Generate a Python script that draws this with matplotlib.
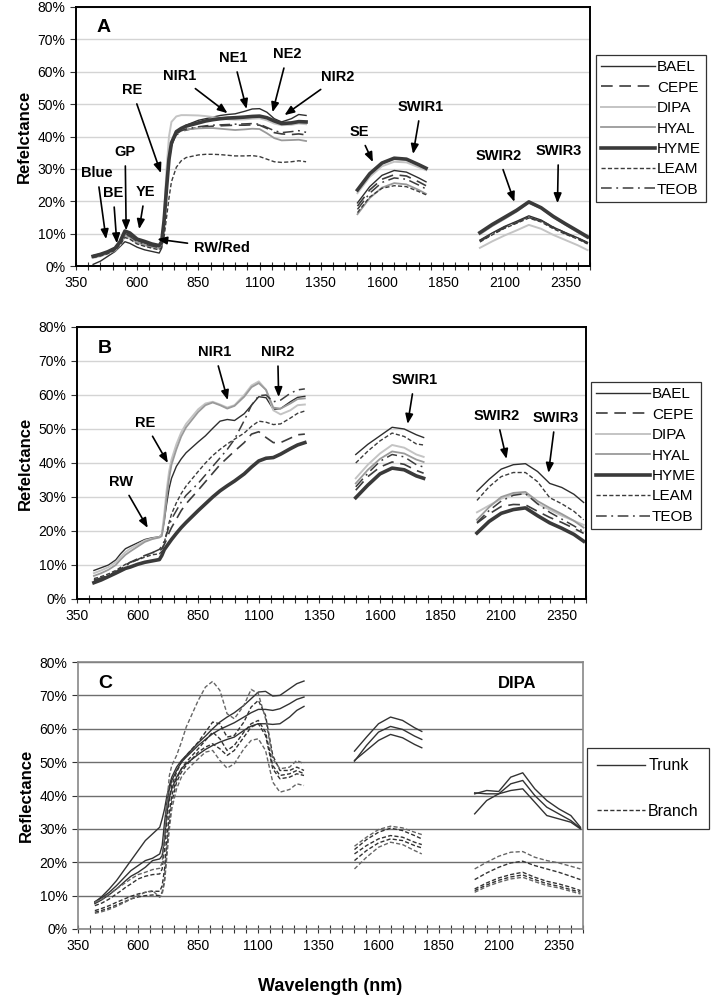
import numpy as np
import matplotlib
matplotlib.use("Agg")
import matplotlib.pyplot as plt
from matplotlib.ticker import MultipleLocator, FixedLocator, FuncFormatter

plt.rcParams['font.family'] = ['Liberation Sans', 'DejaVu Sans']

# wavelength grid (nm): VNIR part, SWIR1 part, SWIR2 part
WAVELENGTH = [420, 450, 480, 510, 530, 550, 570, 600, 630, 660, 690, 700, 710, 720, 730, 740,
              760, 780, 800, 850, 880, 910, 940, 970, 1000, 1040, 1070, 1100, 1130, 1160, 1190,
              1230, 1260, 1290,
              1500, 1550, 1600, 1650, 1700, 1750, 1780,
              2000, 2050, 2100, 2150, 2200, 2250, 2300, 2350, 2400, 2440]
SEGMENTS = [slice(0, 34), slice(34, 41), slice(41, 51)]
X_TICKS = [350, 600, 850, 1100, 1350, 1600, 1850, 2100, 2350]

SPECIES = ['BAEL', 'CEPE', 'DIPA', 'HYAL', 'HYME', 'LEAM', 'TEOB']

# panel A (leaves), reflectance in %
A_BAEL = [0.5, 1.5, 3.0, 4.5, 6.0, 7.5, 7.0, 5.8, 5.0, 4.5, 4.0, 5.5, 12, 23, 32, 37,
          41, 42.5, 43.5, 45, 45.5, 46, 46.5, 46.8, 47, 47.8, 48.5, 48.6, 47.5, 45.5, 44.5,
          45.5, 46.8, 46.5,
          19.5, 24.5, 28.0, 29.5, 29.0, 27.2, 26.0,
          8.0, 10.2, 12.2, 13.8, 15.5, 14.2, 12.0, 10.3, 8.7, 7.3]
A_CEPE = [3.2, 3.7, 4.5, 5.6, 7.5, 10.0, 9.4, 7.8, 7.0, 6.4, 5.9, 7, 13, 24, 33, 38,
          40.5, 41.5, 42.0, 42.8, 43.0, 43.2, 43.3, 43.4, 43.5, 43.5, 43.6, 43.5, 42.5, 41.2, 40.8,
          40.6, 40.8, 40.5,
          18.5, 23.5, 26.8, 28.2, 27.8, 26.0, 24.8,
          7.6, 9.8, 11.8, 13.4, 15.0, 13.8, 11.8, 10.0, 8.5, 7.0]
A_DIPA = [2.5, 3.0, 3.8, 4.8, 6.5, 9.0, 8.5, 7.0, 6.3, 5.8, 5.3, 7, 16, 30, 40, 44.5,
          46.2, 46.6, 46.6, 46.5, 46.3, 46.0, 45.6, 45.3, 45.2, 45.3, 45.5, 45.6, 45.0, 44.0, 43.5,
          43.6, 44.0, 43.8,
          22.5, 27.5, 30.8, 32.2, 32.0, 30.5, 29.6,
          5.6, 7.6, 9.4, 11.0, 12.7, 11.5, 9.6, 8.0, 6.4, 4.9]
A_HYAL = [2.8, 3.3, 4.0, 5.0, 7.0, 9.5, 9.0, 7.4, 6.6, 6.0, 5.6, 7, 14, 25, 34, 38.5,
          41, 41.8, 42.2, 42.5, 42.6, 42.6, 42.4, 42.2, 42.0, 42.2, 42.4, 42.3, 41.0, 39.5, 38.8,
          38.9, 39.0, 38.6,
          16.0, 21.0, 24.2, 25.6, 25.2, 23.5, 22.3,
          9.8, 12.3, 14.5, 16.8, 19.5, 17.8, 15.0, 12.7, 10.4, 8.6]
A_HYME = [3.0, 3.6, 4.4, 5.5, 7.5, 10.8, 10.2, 8.3, 7.6, 6.8, 6.3, 7.5, 14, 24, 33, 38,
          41.5, 42.5, 43.2, 44.2, 44.8, 45.2, 45.5, 45.7, 45.8, 46.0, 46.2, 46.3, 45.8, 44.8, 44.0,
          44.2, 44.6, 44.5,
          23.5, 28.5, 31.8, 33.3, 33.0, 31.3, 30.2,
          10.3, 12.8, 15.0, 17.2, 19.8, 18.0, 15.3, 13.0, 10.8, 9.0]
A_LEAM = [2.6, 3.1, 3.8, 4.8, 6.5, 8.8, 8.3, 6.8, 6.1, 5.5, 5.0, 5.8, 9, 15, 21, 26,
          30.5, 32.5, 33.5, 34.3, 34.5, 34.5, 34.4, 34.2, 34.0, 34.0, 34.1, 33.8, 33.0, 32.2, 32.0,
          32.2, 32.5, 32.2,
          16.5, 21.3, 24.0, 24.8, 24.5, 23.0, 22.0,
          7.4, 9.6, 11.6, 13.2, 14.8, 13.6, 11.5, 9.8, 8.3, 6.8]
A_TEOB = [3.0, 3.5, 4.3, 5.4, 7.3, 9.8, 9.2, 7.6, 6.8, 6.2, 5.7, 7, 13, 24, 33, 38,
          40.8, 41.8, 42.3, 43.0, 43.3, 43.5, 43.6, 43.7, 43.8, 43.9, 44.0, 43.8, 42.8, 41.8, 41.2,
          41.5, 41.8, 41.3,
          17.5, 22.5, 25.8, 27.2, 26.8, 25.0, 23.8,
          7.8, 10.0, 12.0, 13.6, 15.2, 14.0, 12.0, 10.2, 8.6, 7.1]

# panel B (bark)
B_BAEL = [8.4, 9.2, 10.0, 11.5, 13.3, 14.8, 15.5, 16.5, 17.5, 18.0, 18.3, 19, 23, 28, 32.5, 35.5,
          39.0, 41.2, 43.0, 46.2, 48.0, 50.2, 52.3, 52.8, 52.5, 54.5, 57.0, 59.5, 59.2, 55.8, 56.0,
          58.0, 59.3, 59.6,
          42.5, 45.5, 48.0, 50.5, 50.0, 48.3, 47.5,
          31.7, 35.2, 38.2, 39.5, 39.8, 37.5, 34.0, 32.8, 30.8, 28.4]
B_CEPE = [5.6, 6.2, 7.0, 8.0, 9.0, 10.0, 10.8, 11.8, 12.8, 13.6, 14.0, 14.8, 16, 17.5, 19.5, 21,
          23.5, 26.0, 28.0, 32.0, 34.5, 37.0, 39.5, 41.5, 43.5, 46.0, 48.5, 49.2, 47.5, 46.0, 46.0,
          47.3, 48.3, 48.5,
          32.0, 36.0, 38.8, 40.3, 39.6, 37.8, 37.0,
          22.3, 25.0, 27.2, 27.8, 27.7, 25.8, 24.0, 22.5, 20.8, 19.3]
B_DIPA = [7.6, 8.4, 9.4, 10.8, 12.4, 13.8, 14.8, 16.0, 17.2, 17.8, 18.2, 19, 25, 32, 37.5, 41,
          45.5, 49.0, 51.5, 55.8, 57.5, 58.0, 57.2, 56.3, 57.0, 60.0, 62.8, 64.0, 61.5, 55.5, 54.3,
          55.5, 57.0, 57.2,
          35.5, 39.5, 42.8, 45.3, 44.5, 42.5, 41.8,
          25.5, 27.5, 29.5, 30.8, 31.0, 28.0, 26.3, 24.5, 23.0, 21.8]
B_HYAL = [6.8, 7.6, 8.6, 10.0, 11.6, 13.0, 14.0, 15.4, 16.8, 17.6, 18.1, 18.5, 23, 30, 35.5, 39.5,
          44.0, 47.8, 50.5, 55.0, 57.0, 57.8, 57.0, 56.0, 56.8, 59.5, 62.3, 63.5, 61.5, 56.3, 56.0,
          57.5, 58.8, 59.0,
          34.0, 38.0, 41.2, 43.4, 42.8, 41.0, 40.3,
          23.3, 27.0, 30.0, 31.2, 31.5, 28.8, 26.8, 25.0, 23.0, 21.0]
B_HYME = [4.8, 5.6, 6.6, 7.6, 8.3, 9.0, 9.4, 10.2, 10.8, 11.2, 11.6, 12.8, 14.5, 15.5, 16.5, 17.5,
          19.3, 21.0, 22.5, 26.0, 28.0, 30.0, 31.8, 33.3, 34.7, 36.8, 38.8, 40.6, 41.4, 41.6, 42.6,
          44.2, 45.3, 46.0,
          29.8, 33.5, 36.8, 38.5, 38.0, 36.2, 35.5,
          19.4, 22.8, 25.2, 26.3, 26.8, 24.5, 22.4, 20.8, 19.0, 17.0]
B_LEAM = [6.0, 6.6, 7.4, 8.4, 9.3, 10.2, 10.8, 11.5, 12.3, 13.0, 13.3, 14, 16.5, 19.5, 22.5, 25,
          28.3, 31.0, 33.2, 37.5, 40.0, 42.2, 44.0, 45.6, 47.0, 48.8, 50.8, 52.3, 52.0, 51.3, 51.5,
          53.2, 54.6, 55.3,
          40.0, 43.5, 46.5, 48.8, 47.8, 45.6, 45.3,
          29.0, 33.0, 36.0, 37.2, 37.2, 34.5, 29.8, 28.0, 25.8, 23.3]
B_TEOB = [5.4, 6.0, 6.8, 7.8, 8.8, 9.8, 10.6, 11.6, 12.6, 13.6, 14.6, 15.5, 17, 19, 21.5, 23.5,
          26.0, 28.5, 30.5, 34.0, 36.5, 39.0, 41.5, 44.0, 47.0, 52.5, 57.0, 59.8, 60.0, 58.0, 58.5,
          60.5, 61.5, 61.8,
          33.0, 37.0, 40.5, 42.5, 41.8, 39.5, 38.8,
          22.5, 26.0, 28.8, 30.5, 31.0, 28.0, 25.5, 23.5, 21.5, 19.8]

# panel C (DIPA trunk vs branch)
C_TRUNK1 = [8.0, 9.8, 12.0, 14.5, 16.5, 18.5, 20.5, 23.5, 26.5, 28.5, 30.5, 33, 36, 40, 43, 45.5,
            48.5, 50.5, 52.0, 55.8, 57.8, 60.0, 62.0, 63.5, 64.8, 67.0, 69.0, 71.0, 71.2, 69.8, 70.0,
            72.0, 73.5, 74.3,
            53.3, 57.5, 61.5, 63.5, 62.5, 60.3, 59.2,
            40.5, 41.5, 41.2, 45.5, 46.8, 42.0, 38.5, 36.0, 34.0, 30.5]
C_TRUNK2 = [8.2, 9.4, 11.0, 13.0, 14.5, 16.0, 17.5, 19.0, 20.5, 21.2, 22.5, 25, 32, 38, 42, 44.5,
            47.5, 50.0, 51.5, 55.0, 56.8, 58.5, 59.8, 60.8, 61.8, 63.5, 64.8, 65.8, 65.8, 65.5, 66.0,
            67.5, 68.8, 69.5,
            50.3, 55.0, 59.0, 60.7, 59.8, 57.8, 56.8,
            40.8, 40.5, 40.5, 43.5, 44.5, 40.0, 36.5, 34.5, 32.5, 30.2]
C_TRUNK3 = [7.6, 8.8, 10.3, 12.0, 13.3, 14.6, 15.8, 17.0, 18.5, 20.5, 21.0, 22, 27, 35, 39.5, 42,
            45.5, 48.0, 49.5, 52.3, 53.8, 55.0, 56.0, 56.8, 57.5, 59.5, 60.8, 61.5, 61.5, 61.3, 61.5,
            63.5, 65.5, 66.7,
            50.5, 53.5, 56.5, 58.3, 57.3, 55.3, 54.3,
            34.5, 38.5, 40.5, 41.5, 42.0, 38.0, 34.0, 33.0, 32.0, 30.0]
C_BRANCH1 = [8.0, 9.0, 10.5, 12.0, 13.0, 14.0, 15.0, 16.3, 17.0, 17.8, 18.2, 20, 28, 38, 46, 49,
             52, 56, 60.5, 68.5, 72.5, 74.2, 71.5, 64.5, 63, 67, 71.8, 70.5, 63, 51, 48,
             48.5, 50.5, 49.5,
             24.8, 27.5, 29.8, 30.8, 30.3, 29.0, 28.3,
             18.0, 20.0, 21.8, 23.0, 23.2, 21.5, 20.5, 19.8, 18.8, 18.0]
C_BRANCH2 = [7.0, 7.8, 9.0, 10.5, 11.5, 12.6, 13.5, 15.0, 15.8, 16.3, 16.5, 18, 24, 33, 39, 43,
             47, 50, 52, 56, 59, 62, 61.5, 57.5, 58, 62, 66.5, 68.5, 64, 52, 47.5,
             47.5, 48.5, 47.5,
             23.8, 26.8, 29.0, 30.2, 29.5, 28.0, 27.0,
             14.8, 16.8, 18.5, 19.8, 20.3, 19.0, 18.0, 17.0, 15.8, 14.8]
C_BRANCH3 = [5.5, 6.2, 7.0, 8.0, 8.6, 9.2, 9.8, 10.5, 11.0, 11.3, 11.3, 13, 18, 27, 35, 40,
             45, 48, 50, 54, 56.5, 59, 57, 53.5, 55, 59, 61.5, 62.5, 59, 49, 46,
             46.5, 47.5, 46.5,
             22.5, 25.0, 27.0, 28.0, 27.5, 26.0, 25.3,
             12.0, 13.8, 15.3, 16.3, 17.0, 15.5, 14.3, 13.5, 12.5, 11.5]
C_BRANCH4 = [5.0, 5.6, 6.3, 7.2, 7.8, 8.4, 9.0, 9.6, 10.0, 10.2, 10.0, 11, 15, 24, 32, 38,
             44, 47, 49, 53, 54.5, 55.5, 54, 52, 53.5, 57.5, 60.5, 61.5, 58, 48, 45,
             45.5, 46.5, 46,
             20.5, 23.5, 25.8, 27.0, 26.5, 25.0, 24.3,
             11.5, 13.2, 14.6, 15.6, 16.2, 14.8, 13.6, 12.8, 11.8, 11.0]
C_BRANCH5 = [4.7, 5.2, 5.9, 6.8, 7.5, 8.2, 9.0, 10.0, 11.0, 11.5, 9.5, 10.5, 14, 22, 30, 36,
             42, 45.5, 47.5, 51, 53, 53.5, 50.5, 48.2, 49.5, 54, 56.5, 57, 53.5, 44, 41,
             41.8, 43.5, 43,
             18.0, 21.5, 24.5, 26.0, 25.3, 23.5, 22.5,
             11.0, 12.7, 14.0, 15.0, 15.5, 14.2, 13.0, 12.3, 11.3, 10.5]

STYLES = {
    'BAEL': dict(color='#2e2e2e', lw=1.0, ls='-'),
    'CEPE': dict(color='#3c3c3c', lw=1.2, ls=(0, (7, 4))),
    'DIPA': dict(color='#c4c4c4', lw=1.4, ls='-'),
    'HYAL': dict(color='#9a9a9a', lw=1.3, ls='-'),
    'HYME': dict(color='#3a3a3a', lw=2.6, ls='-'),
    'LEAM': dict(color='#3c3c3c', lw=1.0, ls=(0, (3, 1.6))),
    'TEOB': dict(color='#3c3c3c', lw=1.1, ls=(0, (7, 3, 1.2, 3))),
}

wl = np.array(WAVELENGTH, dtype=float)


def plot_series(ax, values, label, style):
    values = np.array(values, dtype=float)
    handle = None
    for k, seg in enumerate(SEGMENTS):
        line, = ax.plot(wl[seg], values[seg], label=label if k == 0 else None, **style)
        if k == 0:
            handle = line
    return handle


def style_axes(ax, grid_color, frame_color, frame_lw):
    ax.set_xlim(350, 2450)
    ax.set_ylim(0, 80)
    ax.xaxis.set_major_locator(FixedLocator(X_TICKS))
    ax.xaxis.set_minor_locator(FixedLocator(list(range(350, 2451, 50))))
    ax.yaxis.set_major_locator(MultipleLocator(10))
    ax.yaxis.set_major_formatter(FuncFormatter(lambda v, _: f'{v:.0f}%'))
    ax.tick_params(axis='x', which='both', direction='inout', length=6, width=0.8,
                   labelsize=10, colors='#333333', labelcolor='black', pad=4)
    ax.tick_params(axis='y', direction='out', length=4, width=0.8, labelsize=10,
                   colors='#333333', labelcolor='black')
    ax.grid(axis='y', color=grid_color, lw=1.0)
    ax.set_axisbelow(True)
    for sp in ax.spines.values():
        sp.set_color(frame_color)
        sp.set_linewidth(frame_lw)


def label(ax, text, xy, xytext):
    ax.annotate(text, xy=xy, xytext=xytext, ha='center', va='center',
                fontsize=10.5, fontweight='bold',
                arrowprops=dict(arrowstyle='-|>,head_length=0.55,head_width=0.22',
                                color='black', lw=1.2, shrinkA=3, shrinkB=0))


def add_legend(fig, ax, handles, x0, y1, spacing):
    leg = ax.legend(handles=handles, loc='upper left', bbox_to_anchor=(x0, y1),
                    bbox_transform=fig.transFigure, fontsize=11, frameon=True,
                    fancybox=False, edgecolor='black', handlelength=3.5,
                    handletextpad=0.15, labelspacing=spacing, borderpad=0.35,
                    borderaxespad=0)
    leg.get_frame().set_linewidth(0.9)
    return leg


fig = plt.figure(figsize=(7.12, 10), dpi=100)
axA = fig.add_axes([0.1067, 0.734, 0.722, 0.259])
axB = fig.add_axes([0.1081, 0.401, 0.715, 0.272])
axC = fig.add_axes([0.1096, 0.071, 0.709, 0.267])

# --- panel A
panel_a = [A_BAEL, A_CEPE, A_DIPA, A_HYAL, A_HYME, A_LEAM, A_TEOB]
handles = [plot_series(axA, v, n, STYLES[n]) for n, v in zip(SPECIES, panel_a)]
style_axes(axA, '#d4d4d4', 'black', 1.4)
axA.set_ylabel('Refelctance', fontsize=12, fontweight='bold', labelpad=4)
axA.text(0.04, 0.92, 'A', transform=axA.transAxes, fontsize=14, fontweight='bold',
         ha='left', va='center')
label(axA, 'Blue', (473, 8.3), (436, 28.7))
label(axA, 'BE', (517, 7.0), (502, 22.5))
label(axA, 'GP', (555, 11.0), (551, 35.2))
label(axA, 'YE', (608, 11.4), (633, 22.8))
label(axA, 'RE', (697, 28.7), (579, 54.3))
label(axA, 'RW/Red', (682, 8.3), (948, 5.6))
label(axA, 'NIR1', (969, 47.2), (772, 58.6))
label(axA, 'NE1', (1047, 48.5), (994, 64.2))
label(axA, 'NE2', (1153, 47.5), (1214, 65.4))
label(axA, 'NIR2', (1202, 46.6), (1420, 58.3))
label(axA, 'SE', (1563, 32.1), (1506, 41.4))
label(axA, 'SWIR1', (1727, 34.6), (1760, 49.1))
label(axA, 'SWIR2', (2141, 19.8), (2075, 34.0))
label(axA, 'SWIR3', (2317, 19.4), (2321, 35.5))
add_legend(fig, axA, handles, 0.837, 0.945, 0.42)

# --- panel B
panel_b = [B_BAEL, B_CEPE, B_DIPA, B_HYAL, B_HYME, B_LEAM, B_TEOB]
handles = [plot_series(axB, v, n, STYLES[n]) for n, v in zip(SPECIES, panel_b)]
style_axes(axB, '#d4d4d4', 'black', 1.4)
axB.set_ylabel('Refelctance', fontsize=12, fontweight='bold', labelpad=4)
axB.text(0.04, 0.92, 'B', transform=axB.transAxes, fontsize=14, fontweight='bold',
         ha='left', va='center')
label(axB, 'NIR1', (972, 58.5), (917, 72.6))
label(axB, 'NIR2', (1182, 59.4), (1178, 72.6))
label(axB, 'RE', (725, 40.0), (630, 51.8))
label(axB, 'RW', (642, 20.9), (533, 34.4))
label(axB, 'SWIR1', (1714, 51.5), (1743, 64.4))
label(axB, 'SWIR2', (2122, 41.2), (2081, 53.8))
label(axB, 'SWIR3', (2295, 37.1), (2324, 53.2))
add_legend(fig, axB, handles, 0.830, 0.618, 0.42)

# --- panel C
trunk_style = dict(color='#333333', lw=1.0, ls='-')
branch_style = dict(color='#333333', lw=1.0, ls=(0, (3, 1.6)))
branch_light = dict(color='#666666', lw=1.0, ls=(0, (3, 1.6)))
h_trunk = plot_series(axC, C_TRUNK1, 'Trunk', trunk_style)
plot_series(axC, C_TRUNK2, None, trunk_style)
plot_series(axC, C_TRUNK3, None, trunk_style)
h_branch = plot_series(axC, C_BRANCH2, 'Branch', branch_style)
plot_series(axC, C_BRANCH1, None, branch_light)
plot_series(axC, C_BRANCH3, None, branch_style)
plot_series(axC, C_BRANCH4, None, branch_style)
plot_series(axC, C_BRANCH5, None, branch_light)
style_axes(axC, '#6e6e6e', '#888888', 1.2)
axC.set_ylabel('Reflectance', fontsize=12, fontweight='bold', labelpad=4)
axC.set_xlabel('Wavelength (nm)', fontsize=13, fontweight='bold', labelpad=18)
axC.text(0.04, 0.92, 'C', transform=axC.transAxes, fontsize=14, fontweight='bold',
         ha='left', va='center')
axC.text(0.87, 0.92, 'DIPA', transform=axC.transAxes, fontsize=12, fontweight='bold',
         ha='center', va='center')
legC = axC.legend(handles=[h_trunk, h_branch], loc='upper left', bbox_to_anchor=(0.824, 0.252),
                  bbox_transform=fig.transFigure, fontsize=11.5, frameon=True, fancybox=False,
                  edgecolor='black', handlelength=3.0, handletextpad=0.2, labelspacing=1.9,
                  borderpad=0.65, borderaxespad=0)
legC.get_frame().set_linewidth(0.9)

fig.savefig('out.png', dpi=100, facecolor='white')
